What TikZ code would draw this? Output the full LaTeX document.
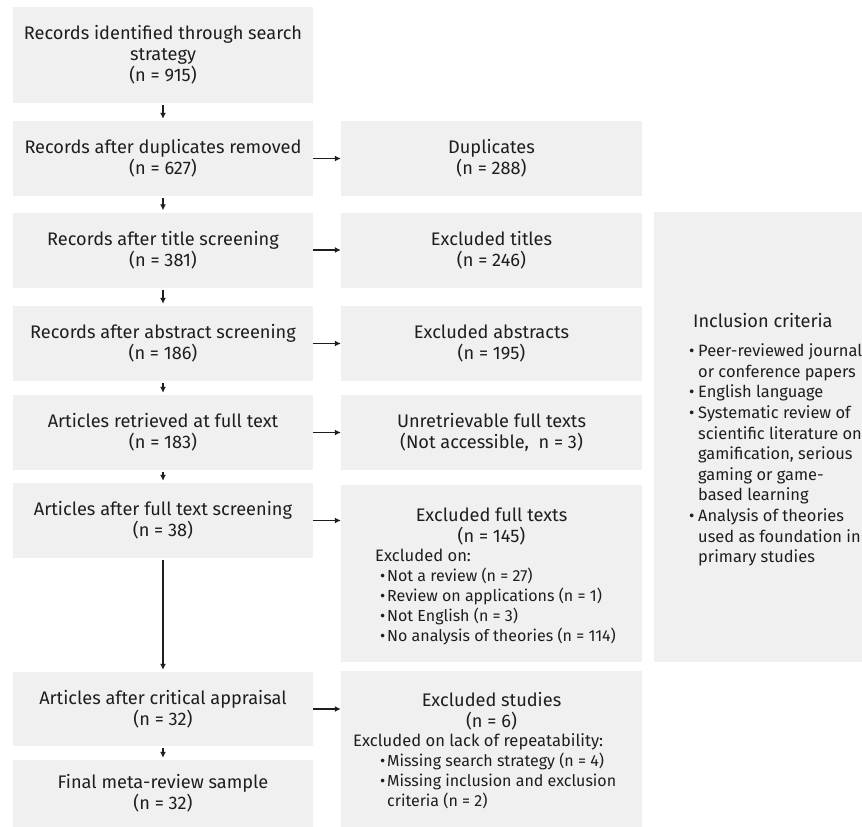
\documentclass[tikz,border=0pt]{standalone}
\usepackage{fontspec}
\setmainfont{Fira Sans}
\usetikzlibrary{arrows.meta}
\definecolor{boxgray}{HTML}{F0F0F0}
\definecolor{ink}{HTML}{1E1E1E}
\newcommand\bulitem{\makebox[7pt][l]{•}}
\newcommand\bulcont{\hspace*{7pt}}
\newcommand\crititem{\makebox[9pt][l]{•}}
\newcommand\critcont{\hspace*{9pt}}
% type sizes chosen so that given lines get their intended widths
\newlength\calw
\settowidth\calw{\fontsize{10}{12}\selectfont Records after duplicates removed}
\pgfmathsetmacro\boxsize{10*277/\calw}
\settowidth\calw{\fontsize{10}{12}\selectfont Excluded on lack of repeatability:}
\pgfmathsetmacro\headsize{10*250/\calw}
\settowidth\calw{\fontsize{10}{12}\selectfont Missing inclusion and exclusion}
\pgfmathsetmacro\listsize{10*229/\calw}
\settowidth\calw{\fontsize{10}{12}\selectfont Peer-reviewed journal}
\pgfmathsetmacro\critsize{10*164/\calw}
\newcommand\headfont{\fontsize{\headsize}{20}\selectfont}
\newcommand\listfont{\fontsize{\listsize}{20}\selectfont}
\begin{document}
\begin{tikzpicture}[x=1pt,y=-1pt,
  flowbox/.style={fill=boxgray, draw=none, inner sep=0pt, align=center,
    text=ink, font=\fontsize{\boxsize}{21}\selectfont},
  leftbox/.style={flowbox, minimum width=300pt, minimum height=75pt},
  midbox/.style={flowbox, minimum width=301pt, minimum height=75pt},
  txt/.style={inner sep=0pt, text=ink, font=\fontsize{\boxsize}{21}\selectfont},
  listtxt/.style={inner sep=0pt, text=ink, align=left, anchor=west,
    font=\listfont},
  crittxt/.style={inner sep=0pt, text=ink, align=left, anchor=west,
    font=\fontsize{\critsize}{20.6}\selectfont},
  flow/.style={line width=1.6pt, draw=ink, -{Latex[length=6pt,width=6pt]}},
]
\useasboundingbox (0,0) rectangle (862,827);

% main sequence of screening steps
\node[leftbox, minimum height=96pt] (r1) at (163,55)
  {Records identified through search\\strategy\\(n = 915)};
\node[leftbox] (r2) at (163,158.5) {Records after duplicates removed\\(n = 627)};
\node[leftbox] (r3) at (163,250) {Records after title screening\\(n = 381)};
\node[leftbox] (r4) at (163,343.5) {Records after abstract screening\\(n = 186)};
\node[leftbox] (r5) at (163,432.5) {Articles retrieved at full text\\(n = 183)};
\node[leftbox] (r6) at (163,520.5) {Articles after full text screening\\(n = 38)};
\node[leftbox, minimum height=74pt] (r7) at (163,709) {Articles after critical appraisal\\(n = 32)};
\node[leftbox, minimum height=67pt] (r8) at (163,793.5) {Final meta-review sample\\(n = 32)};

% exclusions at each step
\node[midbox] (m2) at (491.5,158.5) {Duplicates\\(n = 288)};
\node[midbox] (m3) at (491.5,250) {Excluded titles\\(n = 246)};
\node[midbox] (m4) at (491.5,343.5) {Excluded abstracts\\(n = 195)};
\node[midbox] (m5) at (491.5,432.5) {Unretrievable full texts\\(Not accessible,\ \ n = 3)};
\node[midbox, minimum height=177pt] (m6) at (491.5,573.5) {};
\node[midbox, minimum height=156pt] (m7) at (491.5,749) {};

\node[txt, align=center] (m6title) at (491.5,526) {Excluded full texts\\(n = 145)};
\node[listtxt] (m6list) at (375,596.5)
  {{\headfont Excluded on:}\\
   \hspace*{5pt}\bulitem Not a review (n = 27)\\
   \hspace*{5pt}\bulitem Review on applications (n = 1)\\
   \hspace*{5pt}\bulitem Not English (n = 3)\\
   \hspace*{5pt}\bulitem No analysis of theories (n = 114)};

\node[txt, align=center] (m7title) at (491.5,711) {Excluded studies\\(n = 6)};
\node[listtxt] (m7list) at (353,771.5)
  {{\headfont Excluded on lack of repeatability:}\\
   \hspace*{27pt}\bulitem Missing search strategy (n = 4)\\
   \hspace*{27pt}\bulitem Missing inclusion and exclusion\\
   \hspace*{27pt}\bulcont criteria (n = 2)};

% inclusion criteria panel
\node[flowbox, minimum width=208pt, minimum height=450pt] (inc) at (758,437) {};
\node[crittxt, font=\fontsize{\boxsize}{21}\selectfont] (inctitle) at (693,321) {Inclusion criteria};
\node[crittxt] (inclist) at (689,455)
  {\crititem Peer-reviewed journal\\
   \critcont or conference papers\\
   \crititem English language\\
   \crititem Systematic review of\\
   \critcont scientific literature on\\
   \critcont gamification, serious\\
   \critcont gaming or game-\\
   \critcont based learning\\
   \crititem Analysis of theories\\
   \critcont used as foundation in\\
   \critcont primary studies};

% connectors
\foreach \a/\b in {r1/r2, r2/r3, r3/r4, r4/r5, r5/r6, r6/r7, r7/r8}
  \draw[flow, shorten <=2pt, shorten >=2pt] (\a.south) -- (\b.north);
\foreach \a/\b in {r2/m2, r3/m3, r4/m4, r5/m5, r6/m6, r7/m7}
  \draw[flow] (\a.east) -- (\a.east -| \b.west);
\end{tikzpicture}
\end{document}
